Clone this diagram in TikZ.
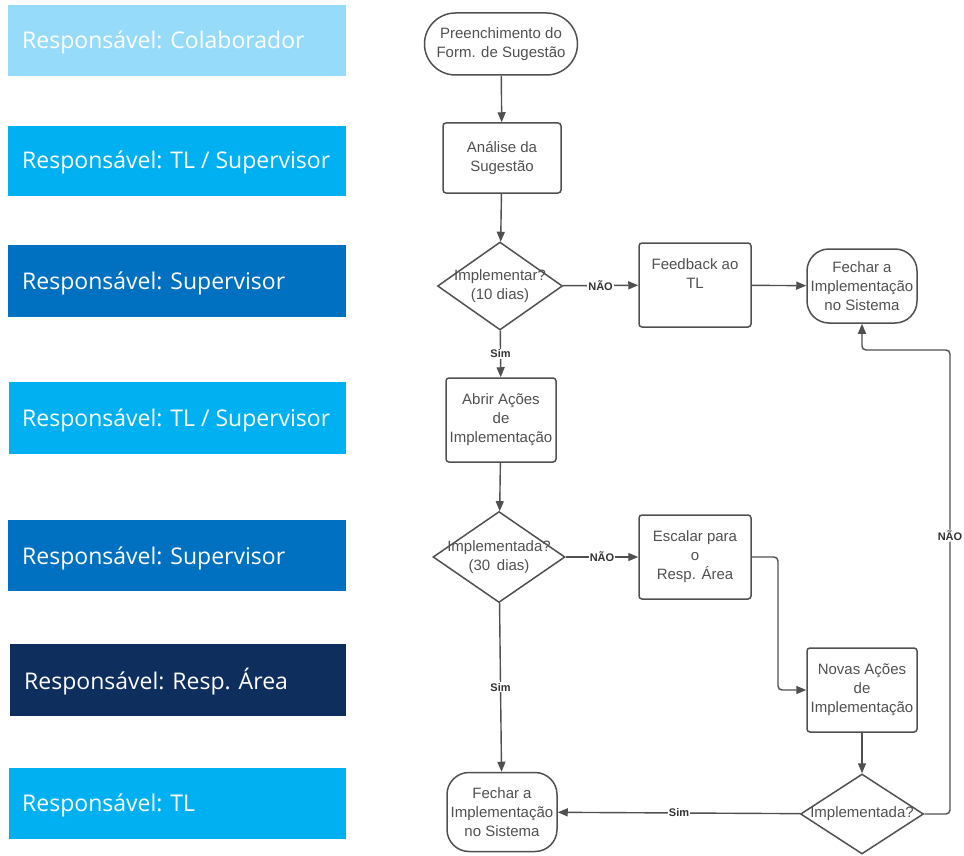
\documentclass[tikz,border=0pt]{standalone}
\usepackage{fontspec}
\setmainfont{Liberation Sans}
\newfontfamily\lanefont{Open Sans}
\usetikzlibrary{arrows.meta,shapes.geometric}

\definecolor{laneA}{HTML}{96DCFA}
\definecolor{laneB}{HTML}{00B0F0}
\definecolor{laneC}{HTML}{0070C0}
\definecolor{laneD}{HTML}{0E2F5E}
\definecolor{ink}{HTML}{505050}
\definecolor{txt}{HTML}{505050}

\tikzset{
  lane/.style={fill=#1, draw=none},
  lanetext/.style={anchor=west, text=white, inner sep=0pt,
    font=\lanefont\fontsize{23}{26}\selectfont},
  base/.style={draw=ink, line width=1.5pt, text=txt, align=center,
    font=\fontsize{15}{19}\selectfont, inner sep=0pt},
  box/.style={base, rounded corners=3pt, minimum width=#1, minimum height=84pt},
  startbox/.style={base, rounded corners=31pt, minimum width=153pt, minimum height=62pt},
  endbox/.style={base, rounded corners=22pt, minimum width=110pt, minimum height=#1},
  decision/.style={base, diamond, minimum width=#1},
  flow/.style={draw=ink, line width=1.4pt, -{Triangle[length=10pt,width=8pt]}},
  lbl/.style={fill=white, inner sep=1pt, text=black!80,
    font=\bfseries\fontsize{11}{12}\selectfont}
}

\begin{document}
\begin{tikzpicture}[x=1pt, y=-1pt]
\path[use as bounding box] (0,0) rectangle (964,856);

% responsibility lanes
\fill[lane=laneA] (8,5) rectangle (346,76);
\node[lanetext] (l1) at (22,42) {Responsável: Colaborador};
\fill[lane=laneB] (8,126) rectangle (346,196);
\node[lanetext] (l2) at (22,162) {Responsável: TL / Supervisor};
\fill[lane=laneC] (8,245) rectangle (346,317);
\node[lanetext] (l3) at (22,283) {Responsável: Supervisor};
\fill[lane=laneB] (9,382) rectangle (346,454);
\node[lanetext] (l4) at (22,420) {Responsável: TL / Supervisor};
\fill[lane=laneC] (8,520) rectangle (346,591);
\node[lanetext] (l5) at (22,558) {Responsável: Supervisor};
\fill[lane=laneD] (10,644) rectangle (346,716);
\node[lanetext] (l6) at (24,682) {Responsável: Resp. Área};
\fill[lane=laneB] (9,768) rectangle (346,839);
\node[lanetext] (l7) at (22,805) {Responsável: TL};

% process steps
\node[startbox] (s) at (501,44) {Preenchimento do\\Form. de Sugestão};
\node[box=118pt, minimum height=70pt] (an) at (502,158) {Análise da\\Sugestão};
\node[decision=125pt, minimum height=88pt,
  label={[base, draw=none, align=center]center:Implementar?\\(10 dias)}] (d1) at (500,286) {};
\node[box=112pt] (fb) at (695,285) {Feedback ao\\TL\\[4pt]};
\node[endbox=74pt] (f1) at (862,286) {Fechar a\\Implementação\\no Sistema};
\node[box=110pt] (ab) at (501,420) {Abrir Ações\\de\\Implementação};
\node[decision=132pt, minimum height=91pt,
  label={[base, draw=none, align=center]center:Implementada?\\(30\, dias)}] (d2) at (499,557) {};
\node[box=112pt] (es) at (695,557) {Escalar para\\o\\Resp. Área};
\node[box=110pt] (nv) at (862,690) {Novas Ações\\de\\Implementação};
\node[decision=123pt, minimum height=80pt,
  label={[base, draw=none, align=center]center:Implementada?}] (d3) at (862,814) {};
\node[endbox=79pt] (f2) at (502,812) {Fechar a\\Implementação\\no Sistema};

% turning points of the routed connectors
\coordinate (c1) at (950,350);
\coordinate (c2) at (778,640);

% connectors
\draw[flow] (s) -- (an);
\draw[flow] (an) -- (d1);
\draw[flow] (d1) -- node[lbl]{NÃO} (fb);
\draw[flow] (fb) -- (f1);
\draw[flow] (d1) -- node[lbl]{Sim} (ab);
\draw[flow] (ab) -- (d2);
\draw[flow] (d2) -- node[lbl]{NÃO} (es);
\draw[flow, rounded corners=4pt] (es.east) -| (c2) |- (nv.west);
\draw[flow] (d2) -- node[lbl]{Sim} (f2);
\draw[flow] (nv) -- (d3);
\draw[flow] (d3) -- node[lbl]{Sim} (f2);
\draw[flow, rounded corners=4pt] (d3.east) -| node[lbl, pos=0.8]{NÃO} (c1) -| (f1.south);
\end{tikzpicture}
\end{document}
